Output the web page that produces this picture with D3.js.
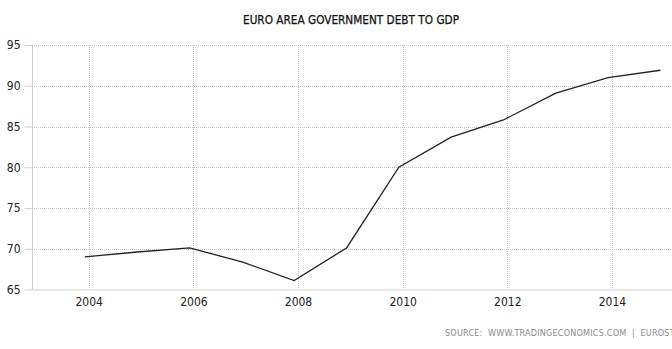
<!DOCTYPE html>
<html><head><meta charset="utf-8">
<script src="https://cdn.jsdelivr.net/npm/d3@7"></script>
<style>
html,body{margin:0;padding:0;background:#fff;overflow:hidden}
svg{display:block}
</style></head>
<body>
<script>
const title = "EURO AREA GOVERNMENT DEBT TO GDP";
const source = "SOURCE:  WWW.TRADINGECONOMICS.COM  |  EUROSTAT";
const years = [2003,2004,2005,2006,2007,2008,2009,2010,2011,2012,2013,2014];
const debt  = [69.0,69.6,70.1,68.4,66.1,70.1,80.0,83.7,85.8,89.1,91.0,91.9];
const yTicks = [65,70,75,80,85,90,95];
const xTickYears = [2004,2006,2008,2010,2012,2014];

const W = 672, H = 349;
const svg = d3.select("body").append("svg").attr("width", W).attr("height", H);
const font = "'DejaVu Sans Condensed','DejaVu Sans',sans-serif";

const x = d3.scaleTime()
  .domain([new Date(2002, 11, 1), new Date(2015, 1, 24)])
  .range([32, 672]);
const y = d3.scaleLinear().domain([65, 95]).range([289.5, 45]);

const pts = years.map((yr, i) => ({d: new Date(yr, 11, 5), v: debt[i]}));

// horizontal grid
svg.append("g").selectAll("line").data(yTicks.slice(1)).join("line")
  .attr("x1", 32).attr("x2", W)
  .attr("y1", d => Math.round(y(d)) + 0.5).attr("y2", d => Math.round(y(d)) + 0.5)
  .attr("stroke", "#c8c8c8").attr("stroke-dasharray", "1,1");

// vertical grid
svg.append("g").selectAll("line").data(xTickYears).join("line")
  .attr("x1", d => Math.round(x(new Date(d, 0, 1))) + 0.5)
  .attr("x2", d => Math.round(x(new Date(d, 0, 1))) + 0.5)
  .attr("y1", 45).attr("y2", 289)
  .attr("stroke", "#c8c8c8").attr("stroke-dasharray", "1,1");

// y axis
const yAxis = d3.axisLeft(y).tickValues(yTicks).tickSize(8).tickPadding(4);
const gy = svg.append("g").attr("transform", "translate(32.5,0)").call(yAxis);
gy.select(".domain").attr("stroke", "#d0d0d0").attr("d", "M0,45V289.5");
gy.selectAll(".tick line").attr("stroke", "#d0d0d0");
gy.selectAll(".tick text").attr("fill", "#222").style("font-family", font).style("font-size", "12px");

// x axis
const xAxis = d3.axisBottom(x).tickValues(xTickYears.map(d => new Date(d, 0, 1)))
  .tickFormat(d3.timeFormat("%Y")).tickSize(0).tickPadding(8);
const gx = svg.append("g").attr("transform", "translate(0,289.5)").call(xAxis);
gx.select(".domain").attr("stroke", "#d0d0d0");
gx.selectAll(".tick text").attr("fill", "#222").style("font-family", font).style("font-size", "12px");

// line
svg.append("path").datum(pts)
  .attr("fill", "none").attr("stroke", "#222").attr("stroke-width", 1.3)
  .attr("d", d3.line().x(d => x(d.d)).y(d => y(d.v)));

// title
svg.append("text").attr("x", 351).attr("y", 24).attr("text-anchor", "middle")
  .style("font-family", font).style("font-size", "11.5px").attr("fill", "#111")
  .attr("stroke", "#111").attr("stroke-width", 0.25)
  .attr("textLength", 216).attr("lengthAdjust", "spacingAndGlyphs")
  .text(title);

// source
svg.append("text").attr("x", 445).attr("y", 336)
  .attr("xml:space", "preserve").style("white-space", "pre")
  .style("font-family", font).style("font-size", "9px").attr("fill", "#8a8a8a")
  .style("letter-spacing", "0.2px")
  .text(source);
</script>
</body></html>
